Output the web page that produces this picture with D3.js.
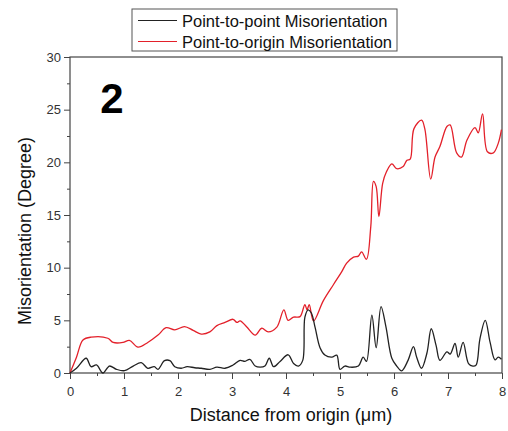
<!DOCTYPE html>
<html><head><meta charset="utf-8">
<script src="https://cdn.jsdelivr.net/npm/d3@7"></script>
<style>body{margin:0;background:#fff}svg{display:block}</style>
</head><body>
<svg id="c" width="508" height="431"></svg>
<script>
const xTicks = [0,1,2,3,4,5,6,7,8];
const yTicks = [0,5,10,15,20,25,30];
const seriesNames = ["Point-to-point Misorientation","Point-to-origin Misorientation"];
const p2pX = [0,0.12,0.30,0.39,0.49,0.61,0.73,0.86,1.01,1.17,1.32,1.44,1.56,1.63,1.75,1.85,1.94,2.06,2.17,2.31,2.43,2.59,2.72,2.87,3.02,3.15,3.24,3.33,3.43,3.52,3.61,3.69,3.77,3.89,4.04,4.14,4.23,4.31,4.35,4.41,4.47,4.54,4.63,4.72,4.85,4.94,5.0,5.09,5.19,5.34,5.43,5.49,5.59,5.67,5.76,5.85,5.96,6.05,6.14,6.26,6.36,6.42,6.51,6.61,6.69,6.78,6.85,6.98,7.04,7.13,7.19,7.28,7.38,7.46,7.52,7.59,7.69,7.78,7.87,7.93,7.99];
const p2pY = [0,0.45,1.4,0.6,0.76,0,0.66,0.35,0.22,0.66,0.98,0.45,0.6,0.35,1.17,1.17,0.6,0.45,0.6,0.5,0.45,0.35,0.55,0.45,0.76,1.2,1.1,1.3,0.66,0.55,0.66,1.4,0.6,1.1,1.73,0.9,0.66,1.2,5.3,6.0,5.7,4.3,2.4,1.7,1.5,1.7,0.35,0.66,0.55,0.66,1.5,1.1,5.5,2.4,6.3,4.4,1.4,0.66,0.2,1.2,2.5,1.5,0.45,1.9,4.2,2.6,1.2,2.0,1.8,2.8,1.5,2.9,0.9,0.66,0.75,3.2,5.0,2.9,1.25,1.5,1.3];
const p2oX = [0,0.12,0.24,0.39,0.70,0.80,0.98,1.10,1.26,1.44,1.63,1.78,1.94,2.12,2.28,2.43,2.59,2.72,2.87,3.02,3.09,3.15,3.27,3.43,3.55,3.67,3.83,3.96,4.04,4.14,4.26,4.35,4.39,4.43,4.51,4.69,4.88,5.03,5.12,5.25,5.34,5.40,5.49,5.57,5.62,5.67,5.72,5.79,5.86,5.96,6.05,6.17,6.24,6.30,6.37,6.51,6.57,6.68,6.76,6.85,6.98,7.04,7.16,7.25,7.35,7.50,7.56,7.64,7.73,7.84,7.93,7.99];
const p2oY = [0,1.5,3.13,3.4,3.3,2.9,2.9,3.1,2.45,2.9,3.6,4.3,4.1,4.4,4.05,3.7,3.9,4.5,4.8,5.1,4.8,4.95,4.4,3.6,4.25,3.9,4.35,6.0,5.0,5.3,5.35,6.5,6.0,6.5,4.95,6.85,8.4,9.6,10.4,11.0,11.1,11.5,10.8,13.9,18.2,17.7,14.85,18.0,19.1,19.85,19.4,19.6,20.2,20.3,23.2,24.0,23.2,18.4,20.5,21.5,23.4,23.55,20.9,20.5,22.1,23.3,22.8,24.6,21.0,20.9,21.8,23.1];

const svg = d3.select("#c");
const m = {l:70, r:502, t:57, b:373};
const x = d3.scaleLinear().domain([0,8]).range([m.l, m.r]);
const y = d3.scaleLinear().domain([0,30]).range([m.b, m.t]);
const font = "'Liberation Sans', Arial, sans-serif";

// minor ticks
const gx = svg.append("g").attr("transform",`translate(0,${m.b})`);
gx.call(d3.axisBottom(x).tickValues(d3.range(0.5,8,1)).tickSize(3).tickFormat(""));
gx.append("g").call(d3.axisBottom(x).tickValues(xTicks).tickSize(6).tickFormat(d3.format("d")));
const gy = svg.append("g").attr("transform",`translate(${m.l},0)`);
gy.call(d3.axisLeft(y).tickValues(d3.range(2.5,30,5)).tickSize(3).tickFormat(""));
gy.append("g").call(d3.axisLeft(y).tickValues(yTicks).tickSize(6).tickFormat(d3.format("d")));
svg.selectAll(".domain").remove();
svg.selectAll(".tick line").attr("stroke","#444");
svg.selectAll(".tick text").attr("font-family",font).attr("font-size",13).attr("fill","#333");
gx.selectAll(".tick text").attr("dy","1.05em");

// frame
svg.append("rect").attr("x",m.l).attr("y",m.t).attr("width",m.r-m.l).attr("height",m.b-m.t)
  .attr("fill","none").attr("stroke","#444").attr("stroke-width",1.2);

const line = (xs,ys)=>d3.line().x((d,i)=>x(xs[i])).y((d,i)=>y(ys[i])).curve(d3.curveCatmullRom.alpha(0.5))(xs);
svg.append("path").attr("d",line(p2oX,p2oY)).attr("fill","none").attr("stroke","#e3202a").attr("stroke-width",1.3);
svg.append("path").attr("d",line(p2pX,p2pY)).attr("fill","none").attr("stroke","#222").attr("stroke-width",1.3);

// panel label
svg.append("text").attr("x",112).attr("y",113).attr("text-anchor","middle")
  .attr("font-family","'Liberation Sans', Arial, sans-serif").attr("font-weight","bold").attr("font-size",42).text("2");

// axis titles
svg.append("text").attr("x",(m.l+m.r)/2+5).attr("y",421).attr("text-anchor","middle")
  .attr("font-family",font).attr("font-size",18).attr("fill","#111").text("Distance from origin (μm)");
svg.append("text").attr("transform",`translate(31,${(m.t+m.b)/2+16}) rotate(-90)`).attr("text-anchor","middle")
  .attr("font-family",font).attr("font-size",18).attr("fill","#111").text("Misorientation (Degree)");

// legend
const lg = svg.append("g");
lg.append("rect").attr("x",132).attr("y",9).attr("width",265).attr("height",42).attr("fill","#fff").attr("stroke","#555");
const colors = ["#222","#e3202a"];
seriesNames.forEach((n,i)=>{
  const yy = 20.5 + i*21;
  lg.append("line").attr("x1",138).attr("x2",177).attr("y1",yy).attr("y2",yy).attr("stroke",colors[i]).attr("stroke-width",1.2);
  lg.append("text").attr("x",182).attr("y",yy+6).attr("font-family",font).attr("font-size",16.5).attr("fill","#111").text(n);
});
</script>
</body></html>
